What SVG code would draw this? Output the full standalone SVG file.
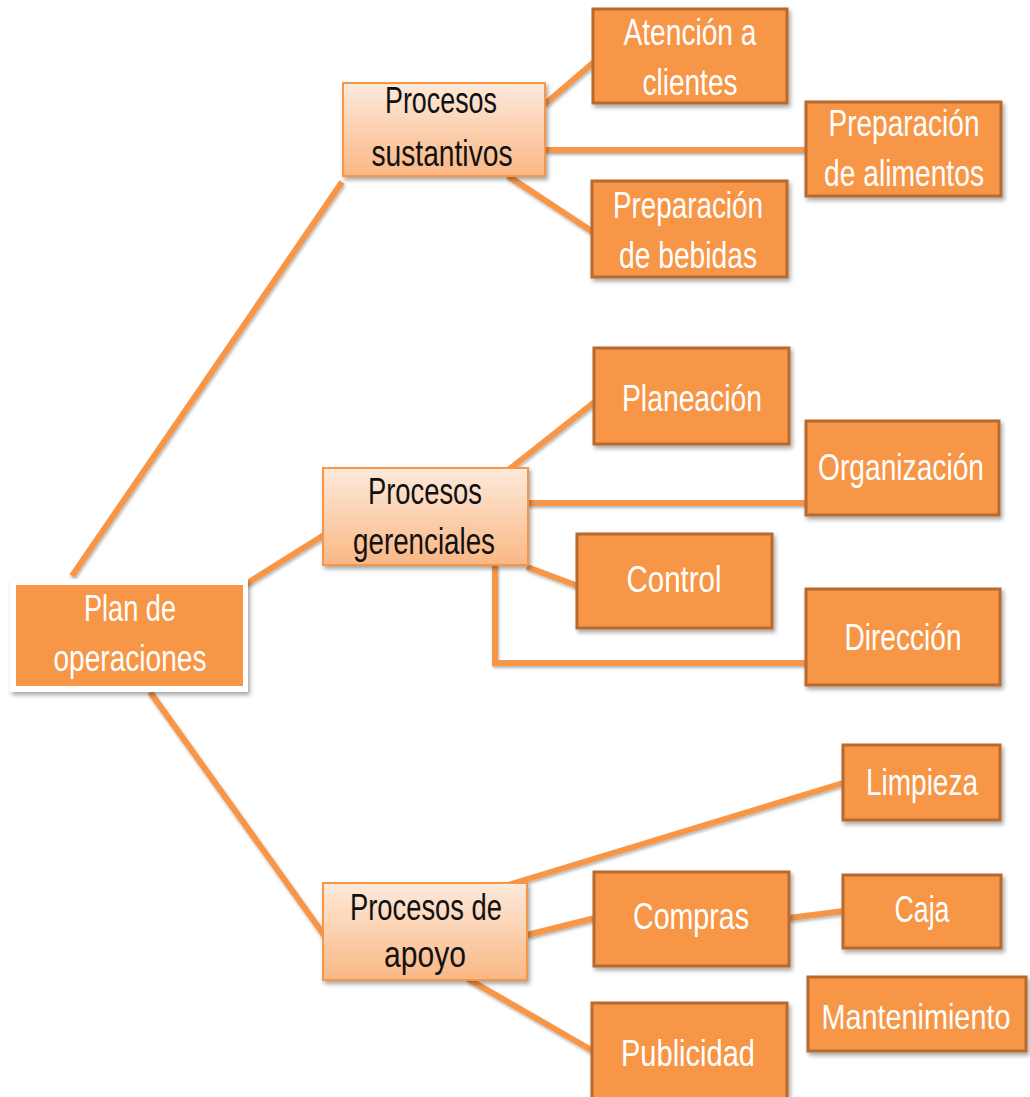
<svg xmlns="http://www.w3.org/2000/svg" width="1030" height="1097" viewBox="0 0 1030 1097">
<defs>
<linearGradient id="lg" x1="0" y1="0" x2="0" y2="1">
<stop offset="0" stop-color="#fdeadb"/>
<stop offset="1" stop-color="#fab784"/>
</linearGradient>
<filter id="sh" x="-10%" y="-10%" width="130%" height="130%">
<feDropShadow dx="2" dy="3" stdDeviation="2" flood-color="#000" flood-opacity="0.35"/>
</filter>
<filter id="lsh" x="-5%" y="-5%" width="110%" height="110%">
<feDropShadow dx="1" dy="2" stdDeviation="1.5" flood-color="#000" flood-opacity="0.3"/>
</filter>
</defs>
<style>
.ob{fill:#f79646;stroke:#b86b2e;stroke-width:3}
.lb{fill:url(#lg);stroke:#f79646;stroke-width:2}
.wt{font-family:"Liberation Sans",Arial,sans-serif;font-size:36px;fill:#ffffff;text-anchor:middle}
.dt{font-family:"Liberation Sans",Arial,sans-serif;font-size:36px;fill:#111111;text-anchor:middle}
.cn{fill:none;stroke:#f79646;stroke-width:6;stroke-linecap:butt}
</style>
<rect width="1030" height="1097" fill="#ffffff"/>
<g id="connectors" filter="url(#lsh)">
<line class="cn" x1="72" y1="576" x2="342" y2="182"/>
<line class="cn" x1="246" y1="584" x2="324" y2="535"/>
<line class="cn" x1="150" y1="692" x2="324" y2="935"/>
<line class="cn" x1="545" y1="104" x2="594" y2="62"/>
<line class="cn" x1="545" y1="150" x2="806" y2="150"/>
<line class="cn" x1="508" y1="176" x2="593" y2="232"/>
<line class="cn" x1="507" y1="471" x2="597" y2="400"/>
<line class="cn" x1="528" y1="503" x2="806" y2="503"/>
<line class="cn" x1="527" y1="567" x2="578" y2="586"/>
<polyline class="cn" points="495,565 495,663 806,663"/>
<line class="cn" x1="508" y1="885" x2="843" y2="783"/>
<line class="cn" x1="527" y1="935" x2="595" y2="918"/>
<line class="cn" x1="789" y1="918" x2="844" y2="911"/>
<line class="cn" x1="468" y1="979" x2="593" y2="1051"/>
</g>
<g id="plan">
<rect x="10" y="579" width="238" height="113" fill="#ffffff" filter="url(#sh)"/>
<rect x="16" y="585" width="227" height="101" fill="#f79646"/>
<text class="wt" x="130" y="621" textLength="92" lengthAdjust="spacingAndGlyphs">Plan de</text>
<text class="wt" x="130" y="671" textLength="153" lengthAdjust="spacingAndGlyphs">operaciones</text>
</g>
<g id="sustantivos">
<rect class="lb" x="343" y="83" width="202" height="93" filter="url(#sh)"/>
<text class="dt" x="441" y="113" textLength="112" lengthAdjust="spacingAndGlyphs">Procesos</text>
<text class="dt" x="442" y="166" textLength="141" lengthAdjust="spacingAndGlyphs">sustantivos</text>
</g>
<g id="gerenciales">
<rect class="lb" x="323" y="468" width="205" height="97" filter="url(#sh)"/>
<text class="dt" x="425" y="504" textLength="114" lengthAdjust="spacingAndGlyphs">Procesos</text>
<text class="dt" x="424" y="554" textLength="142" lengthAdjust="spacingAndGlyphs">gerenciales</text>
</g>
<g id="apoyo">
<rect class="lb" x="323" y="883" width="204" height="97" filter="url(#sh)"/>
<text class="dt" x="426" y="920" textLength="152" lengthAdjust="spacingAndGlyphs">Procesos de</text>
<text class="dt" x="425" y="967" textLength="82" lengthAdjust="spacingAndGlyphs">apoyo</text>
</g>
<g id="atencion">
<rect class="ob" x="593" y="9" width="194" height="94" filter="url(#sh)"/>
<text class="wt" x="690" y="45" textLength="133" lengthAdjust="spacingAndGlyphs">Atención a</text>
<text class="wt" x="690" y="95" textLength="95" lengthAdjust="spacingAndGlyphs">clientes</text>
</g>
<g id="alimentos">
<rect class="ob" x="806" y="102" width="195" height="94" filter="url(#sh)"/>
<text class="wt" x="904" y="136" textLength="151" lengthAdjust="spacingAndGlyphs">Preparación</text>
<text class="wt" x="904" y="186" textLength="160" lengthAdjust="spacingAndGlyphs">de alimentos</text>
</g>
<g id="bebidas">
<rect class="ob" x="592" y="181" width="195" height="96" filter="url(#sh)"/>
<text class="wt" x="688" y="218" textLength="150" lengthAdjust="spacingAndGlyphs">Preparación</text>
<text class="wt" x="688" y="268" textLength="138" lengthAdjust="spacingAndGlyphs">de bebidas</text>
</g>
<g id="planeacion">
<rect class="ob" x="594" y="348" width="195" height="96" filter="url(#sh)"/>
<text class="wt" x="692" y="411" textLength="140" lengthAdjust="spacingAndGlyphs">Planeación</text>
</g>
<g id="organizacion">
<rect class="ob" x="806" y="421" width="193" height="94" filter="url(#sh)"/>
<text class="wt" x="901" y="480" textLength="166" lengthAdjust="spacingAndGlyphs">Organización</text>
</g>
<g id="control">
<rect class="ob" x="577" y="534" width="195" height="94" filter="url(#sh)"/>
<text class="wt" x="674" y="592" textLength="95" lengthAdjust="spacingAndGlyphs">Control</text>
</g>
<g id="direccion">
<rect class="ob" x="806" y="589" width="194" height="96" filter="url(#sh)"/>
<text class="wt" x="903" y="650" textLength="117" lengthAdjust="spacingAndGlyphs">Dirección</text>
</g>
<g id="limpieza">
<rect class="ob" x="843" y="745" width="157" height="75" filter="url(#sh)"/>
<text class="wt" x="922" y="795" textLength="112" lengthAdjust="spacingAndGlyphs">Limpieza</text>
</g>
<g id="compras">
<rect class="ob" x="594" y="872" width="195" height="94" filter="url(#sh)"/>
<text class="wt" x="691" y="929" textLength="116" lengthAdjust="spacingAndGlyphs">Compras</text>
</g>
<g id="caja">
<rect class="ob" x="843" y="875" width="158" height="73" filter="url(#sh)"/>
<text class="wt" x="922" y="922" textLength="55" lengthAdjust="spacingAndGlyphs">Caja</text>
</g>
<g id="mantenimiento">
<rect class="ob" x="808" y="977" width="218" height="74" filter="url(#sh)"/>
<text class="wt" transform="translate(916,1029) scale(0.8,1)" x="0" y="0">Mantenimiento</text>
</g>
<g id="publicidad">
<rect class="ob" x="592" y="1003" width="195" height="100" filter="url(#sh)"/>
<text class="wt" x="688" y="1066" textLength="134" lengthAdjust="spacingAndGlyphs">Publicidad</text>
</g>
</svg>
